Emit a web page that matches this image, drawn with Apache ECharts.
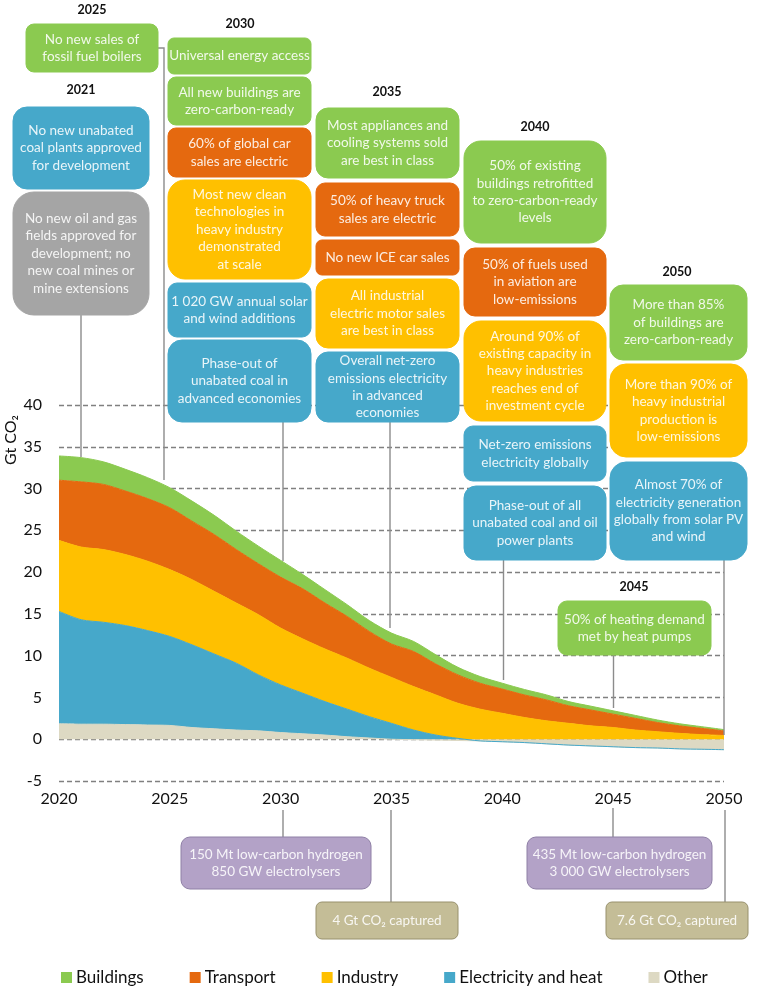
<!DOCTYPE html>
<html>
<head>
<meta charset="utf-8">
<title>Net zero milestones</title>
<script src="https://cdn.jsdelivr.net/npm/echarts@6/dist/echarts.min.js"></script>
<style>
	html, body { margin: 0; padding: 0; background: #fff; }
	#chart { width: 768px; height: 990px; }
</style>
</head>
<body>
<div id="chart"></div>
<script>
	// values, Gt CO2 per year
	var years = ['2020', '2021', '2022', '2023', '2024', '2025', '2026', '2027', '2028', '2029', '2030',
		'2031', '2032', '2033', '2034', '2035', '2036', '2037', '2038', '2039', '2040',
		'2041', '2042', '2043', '2044', '2045', '2046', '2047', '2048', '2049', '2050'];
	var other = [1.85, 1.8, 1.8, 1.75, 1.7, 1.65, 1.4, 1.25, 1.1, 1.0, 0.8,
		0.65, 0.5, 0.3, 0.15, 0, -0.05, -0.1, -0.15, -0.2, -0.3,
		-0.4, -0.55, -0.7, -0.8, -0.9, -1.0, -1.05, -1.15, -1.2, -1.25];
	var electricity = [13.45, 12.5, 12.2, 11.85, 11.3, 10.65, 9.9, 8.95, 8.0, 6.7, 5.7,
		4.85, 4.0, 3.3, 2.55, 1.9, 1.1, 0.5, 0.1, 0, 0,
		0, 0, 0, 0, 0, 0, 0, 0, 0, 0];
	var industry = [8.5, 8.7, 8.7, 8.5, 8.3, 8.0, 7.8, 7.5, 7.2, 7.2, 6.8,
		6.5, 6.3, 6.1, 5.8, 5.5, 5.2, 4.8, 4.2, 3.6, 3.1,
		2.6, 2.2, 1.9, 1.6, 1.4, 1.1, 0.9, 0.7, 0.55, 0.45];
	var transport = [7.2, 7.8, 7.8, 7.6, 7.5, 7.4, 7.0, 6.8, 6.4, 6.1, 6.1,
		6.0, 5.5, 5.0, 4.4, 4.0, 4.2, 3.7, 3.4, 3.1, 2.9,
		2.7, 2.5, 2.1, 1.9, 1.6, 1.4, 1.1, 0.9, 0.75, 0.55];
	var buildings = [2.9, 2.9, 2.7, 2.6, 2.5, 2.4, 2.4, 2.3, 2.2, 2.1, 2.0,
		1.7, 1.6, 1.4, 1.3, 1.3, 1.2, 1.1, 0.9, 0.8, 0.7,
		0.65, 0.6, 0.5, 0.45, 0.4, 0.35, 0.3, 0.25, 0.2, 0.15];

	// milestone texts, one list per year
	var text2021 = ['No new unabated\ncoal plants approved\nfor development',
		'No new oil and gas\nfields approved for\ndevelopment; no\nnew coal mines or\nmine extensions'];
	var text2025 = ['No new sales of\nfossil fuel boilers'];
	var text2030 = ['Universal energy access', 'All new buildings are\nzero-carbon-ready',
		'60% of global car\nsales are electric',
		'Most new clean\ntechnologies in\nheavy industry\ndemonstrated\nat scale',
		'1 020 GW annual solar\nand wind additions',
		'Phase-out of\nunabated coal in\nadvanced economies'];
	var text2035 = ['Most appliances and\ncooling systems sold\nare best in class',
		'50% of heavy truck\nsales are electric', 'No new ICE car sales',
		'All industrial\nelectric motor sales\nare best in class',
		'Overall net-zero\nemissions electricity\nin advanced\neconomies'];
	var text2040 = ['50% of existing\nbuildings retrofitted\nto zero-carbon-ready\nlevels',
		'50% of fuels used\nin aviation are\nlow-emissions',
		'Around 90% of\nexisting capacity in\nheavy industries\nreaches end of\ninvestment cycle',
		'Net-zero emissions\nelectricity globally',
		'Phase-out of all\nunabated coal and oil\npower plants'];
	var text2045 = ['50% of heating demand\nmet by heat pumps'];
	var text2050 = ['More than 85%\nof buildings are\nzero-carbon-ready',
		'More than 90% of\nheavy industrial\nproduction is\nlow-emissions',
		'Almost 70% of\nelectricity generation\nglobally from solar PV\nand wind'];
	var textLower = ['150 Mt low-carbon hydrogen\n850 GW electrolysers', '4 Gt CO\u2082 captured',
		'435 Mt low-carbon hydrogen\n3 000 GW electrolysers', '7.6 Gt CO\u2082 captured'];

	var GREEN = '#8bca50', ORANGE = '#e5690f', YELLOW = '#ffc000', BLUE = '#46a8ca',
		GREY = '#a5a5a5', PURPLE = '#b3a2c7', TAN = '#c4bd97', BEIGE = '#ddd9c3';
	var FONT = 'Lato';

	var graphics = [];

	function addBox(x, y, w, h, color, label, stroke) {
		graphics.push({
			type: 'rect', z: 20, silent: true,
			shape: {x: x, y: y, width: w, height: h, r: Math.round(Math.min(w, h) / 6)},
			style: {fill: color, stroke: stroke || color, lineWidth: 1}
		});
		graphics.push({
			type: 'text', z: 21, silent: true,
			x: x + w / 2, y: y + h / 2,
			style: {
				text: label, fill: 'rgba(255,255,255,0.88)', font: '13.5px ' + FONT,
				align: 'center', verticalAlign: 'middle', lineHeight: 17.4
			}
		});
	}

	// stacks boxes of one column: rows are [top, bottom, colour]
	function addColumn(x, w, rows, labels) {
		rows.forEach(function (row, i) {
			addBox(x, row[0], w, row[1] - row[0], row[2], labels[i]);
		});
	}

	function addYear(label, cx, cy) {
		graphics.push({
			type: 'text', z: 21, silent: true, x: cx, y: cy,
			style: {text: label, fill: '#111', font: 'bold 12.5px ' + FONT, align: 'center', verticalAlign: 'middle'}
		});
	}

	function addLeader(points) {
		graphics.push({
			type: 'polyline', z: 10, silent: true,
			shape: {points: points},
			style: {fill: null, stroke: '#8c8c8c', lineWidth: 1.4}
		});
	}

	addLeader([[81, 315], [81, 457]]);
	addLeader([[158, 48], [164, 48], [164, 480]]);
	addLeader([[283, 422], [283, 561]]);
	addLeader([[390, 422], [390, 628]]);
	addLeader([[503.5, 560], [503.5, 680]]);
	addLeader([[613.5, 655], [613.5, 708]]);
	addLeader([[724, 560], [724, 735]]);
	addLeader([[283, 810], [283, 837]]);
	addLeader([[391, 810], [391, 902]]);
	addLeader([[613, 808], [613, 837]]);
	addLeader([[725, 810], [725, 902]]);

	addYear('2021', 81, 90);
	addColumn(13, 136, [[107, 189, BLUE], [192, 315, GREY]], text2021);
	addYear('2025', 92, 10);
	addColumn(26, 132, [[24, 72, GREEN]], text2025);
	addYear('2030', 240, 24);
	addColumn(168, 143, [[38, 74, GREEN], [77, 125, GREEN], [128, 177, ORANGE],
		[180, 279, YELLOW], [283, 337, BLUE], [340, 422, BLUE]], text2030);
	addYear('2035', 387, 92);
	addColumn(316, 143, [[108, 178, GREEN], [183, 236, ORANGE], [240, 275, ORANGE],
		[279, 348, YELLOW], [352, 422, BLUE]], text2035);
	addYear('2040', 535, 127);
	addColumn(464, 142, [[141, 243, GREEN], [248, 316, ORANGE], [321, 421, YELLOW],
		[426, 481, BLUE], [486, 560, BLUE]], text2040);
	addYear('2045', 634, 587);
	addColumn(558, 153, [[601, 655, GREEN]], text2045);
	addYear('2050', 677, 272);
	addColumn(610, 137, [[285, 360, GREEN], [364, 457, YELLOW], [462, 560, BLUE]], text2050);

	addBox(181, 837, 190, 52, PURPLE, textLower[0], '#8f80a6');
	addBox(316, 902, 142, 37, TAN, textLower[1], '#98916d');
	addBox(527, 837, 185, 52, PURPLE, textLower[2], '#8f80a6');
	addBox(606, 902, 142, 37, TAN, textLower[3], '#98916d');

	graphics.push({
		type: 'text', z: 21, silent: true, x: 11, y: 440, rotation: Math.PI / 2,
		style: {text: 'Gt CO\u2082', fill: '#111', font: '16px ' + FONT, align: 'center', verticalAlign: 'middle'}
	});

	function makeSeries(name, values, color) {
		return {
			name: name,
			type: 'line',
			stack: 'total',
			stackStrategy: 'samesign',
			data: values,
			smooth: 0.3,
			showSymbol: false,
			silent: true,
			lineStyle: {width: 1, color: color},
			itemStyle: {color: color},
			areaStyle: {color: color, opacity: 1}
		};
	}

	var myChart = echarts.init(document.getElementById('chart'));
	myChart.setOption({
		animation: false,
		backgroundColor: '#fff',
		textStyle: {fontFamily: FONT},
		grid: {left: 59, right: 44, top: 405, bottom: 209, containLabel: false},
		legend: {
			left: 56, top: 964,
			itemWidth: 11, itemHeight: 11, itemGap: 46,
			icon: 'rect',
			selectedMode: false,
			textStyle: {fontFamily: FONT, fontSize: 17, color: '#111', padding: [0, 0, 0, -1]},
			data: ['Buildings', 'Transport', 'Industry', 'Electricity and heat', 'Other']
		},
		xAxis: {
			type: 'category',
			boundaryGap: false,
			data: years,
			axisLine: {show: false, onZero: false},
			axisTick: {show: false},
			axisLabel: {interval: 4, color: '#111', fontSize: 16, margin: 10, fontFamily: FONT, showMaxLabel: true}
		},
		yAxis: {
			type: 'value',
			min: -5,
			max: 40,
			interval: 5,
			axisLine: {show: false},
			axisTick: {show: false},
			axisLabel: {color: '#111', fontSize: 16, margin: 17, fontFamily: FONT},
			splitLine: {lineStyle: {type: [5, 3], color: '#808080', width: 1.3}}
		},
		series: [
			makeSeries('Other', other, BEIGE),
			makeSeries('Electricity and heat', electricity, BLUE),
			makeSeries('Industry', industry, YELLOW),
			makeSeries('Transport', transport, ORANGE),
			makeSeries('Buildings', buildings, GREEN)
		],
		graphic: {elements: graphics}
	});
</script>
</body>
</html>
